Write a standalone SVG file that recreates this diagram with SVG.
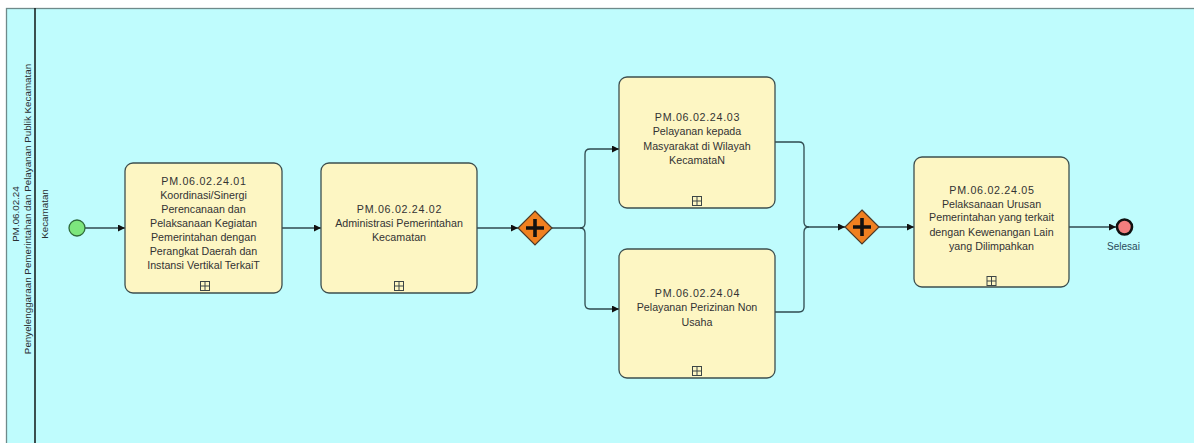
<svg xmlns="http://www.w3.org/2000/svg" width="1194" height="443" viewBox="0 0 1194 443">
<defs>
<style>
.pool{fill:#bffcfd;stroke:#6f8a8a;stroke-width:1.3}
.div{stroke:#1a2222;stroke-width:1.6}
.hdr{font-family:"Liberation Sans",Arial,sans-serif;font-size:9.8px;fill:#2a2f33;text-anchor:middle}
.task{fill:#fdf6c3;stroke:#3d4f4f;stroke-width:1.3}
.tt{font-family:"Liberation Sans",Arial,sans-serif;font-size:10.7px;fill:#333;text-anchor:middle}
.id{letter-spacing:0.7px}
.mk{fill:#fdf6c3;stroke:#3d4646;stroke-width:1}
.conn{fill:none;stroke:#2f4a4f;stroke-width:1.3}
.gw{fill:#f08020;stroke:#4a3a2a;stroke-width:1.2}
.plus{stroke:#111;stroke-width:3.6;stroke-linecap:butt}
.lbl{font-family:"Liberation Sans",Arial,sans-serif;font-size:10px;fill:#2b4a5a;text-anchor:middle}
</style>
<marker id="arr" viewBox="0 0 10 10" refX="10" refY="5" markerWidth="9" markerHeight="7" markerUnits="userSpaceOnUse" orient="auto">
<path d="M0,0 L10,5 L0,10 z" fill="#111"/>
</marker>
<g id="sub">
<rect class="mk" x="-4.5" y="-4.5" width="9" height="9"/>
<path d="M0,-4.5 V4.5 M-4.5,0 H4.5" stroke="#3d4646" stroke-width="1"/>
</g>
</defs>

<g id="pool">
<rect class="pool" x="6.5" y="8.5" width="1200" height="450"/>
<line class="div" x1="35" y1="8" x2="35" y2="443"/>
<text class="hdr" transform="translate(19,214) rotate(-90)">PM.06.02.24</text>
<text class="hdr" transform="translate(30.5,209) rotate(-90)">Penyelenggaraan Pemerintahan dan Pelayanan Publik Kecamatan</text>
<text class="hdr" transform="translate(47.5,214) rotate(-90)">Kecamatan</text>
</g>

<g id="connectors">
<path class="conn" d="M85,228 H125" marker-end="url(#arr)"/>
<path class="conn" d="M282,228 H321" marker-end="url(#arr)"/>
<path class="conn" d="M477,228 H518" marker-end="url(#arr)"/>
<path class="conn" d="M552,228 H580 Q585,228 585,223 V154 Q585,149 590,149 H619" marker-end="url(#arr)"/>
<path class="conn" d="M580,228 Q585,228 585,233 V304 Q585,309 590,309 H619" marker-end="url(#arr)"/>
<path class="conn" d="M775,142 H799 Q804,142 804,147 V222 Q804,227 809,227 H845" marker-end="url(#arr)"/>
<path class="conn" d="M775,312 H799 Q804,312 804,307 V232 Q804,227 809,227"/>
<path class="conn" d="M879,227 H914" marker-end="url(#arr)"/>
<path class="conn" d="M1069,227 H1116" marker-end="url(#arr)"/>
</g>

<g id="start">
<circle cx="77" cy="228" r="8" fill="#7de67d" stroke="#2e6a3a" stroke-width="1.3"/>
</g>

<g id="task1">
<rect class="task" x="125" y="163" width="157" height="130" rx="8"/>
<text class="tt id" x="204" y="184.5">PM.06.02.24.01</text>
<text class="tt" x="203.5" y="198.5">Koordinasi/Sinergi</text>
<text class="tt" x="203.5" y="212.6">Perencanaan dan</text>
<text class="tt" x="203.5" y="226.7">Pelaksanaan Kegiatan</text>
<text class="tt" x="203.5" y="240.8">Pemerintahan dengan</text>
<text class="tt" x="203.5" y="254.8">Perangkat Daerah dan</text>
<text class="tt" x="203.5" y="268.8">Instansi Vertikal TerkaiT</text>
<use href="#sub" x="205" y="286"/>
</g>

<g id="task2">
<rect class="task" x="321" y="163" width="156" height="130" rx="8"/>
<text class="tt id" x="399.5" y="213">PM.06.02.24.02</text>
<text class="tt" x="399" y="227">Administrasi Pemerintahan</text>
<text class="tt" x="399" y="241">Kecamatan</text>
<use href="#sub" x="399" y="286"/>
</g>

<g id="gateway1">
<path class="gw" d="M535,211 L552,228 L535,245 L518,228 z"/>
<path class="plus" d="M535,219 V237 M526,228 H544"/>
</g>

<g id="task3">
<rect class="task" x="619" y="77" width="156" height="131" rx="8"/>
<text class="tt id" x="697.5" y="121">PM.06.02.24.03</text>
<text class="tt" x="697" y="135.4">Pelayanan kepada</text>
<text class="tt" x="697" y="149.8">Masyarakat di Wilayah</text>
<text class="tt" x="697" y="164">KecamataN</text>
<use href="#sub" x="697" y="201"/>
</g>

<g id="task4">
<rect class="task" x="619" y="249" width="156" height="129" rx="8"/>
<text class="tt id" x="697.5" y="296.7">PM.06.02.24.04</text>
<text class="tt" x="697" y="311.4">Pelayanan Perizinan Non</text>
<text class="tt" x="697" y="326">Usaha</text>
<use href="#sub" x="697" y="371"/>
</g>

<g id="gateway2">
<path class="gw" d="M862,210 L879,227 L862,244 L845,227 z"/>
<path class="plus" d="M862,218 V236 M853,227 H871"/>
</g>

<g id="task5">
<rect class="task" x="914" y="157" width="155" height="130" rx="8"/>
<text class="tt id" x="992" y="193.8">PM.06.02.24.05</text>
<text class="tt" x="991.5" y="207.6">Pelaksanaan Urusan</text>
<text class="tt" x="991.5" y="221.4">Pemerintahan yang terkait</text>
<text class="tt" x="991.5" y="235.5">dengan Kewenangan Lain</text>
<text class="tt" x="991.5" y="249.8">yang Dilimpahkan</text>
<use href="#sub" x="991.5" y="281"/>
</g>

<g id="end">
<circle cx="1124.5" cy="227" r="7.5" fill="#f27d7d" stroke="#111" stroke-width="2.6"/>
<text class="lbl" x="1123.5" y="250">Selesai</text>
</g>
</svg>
